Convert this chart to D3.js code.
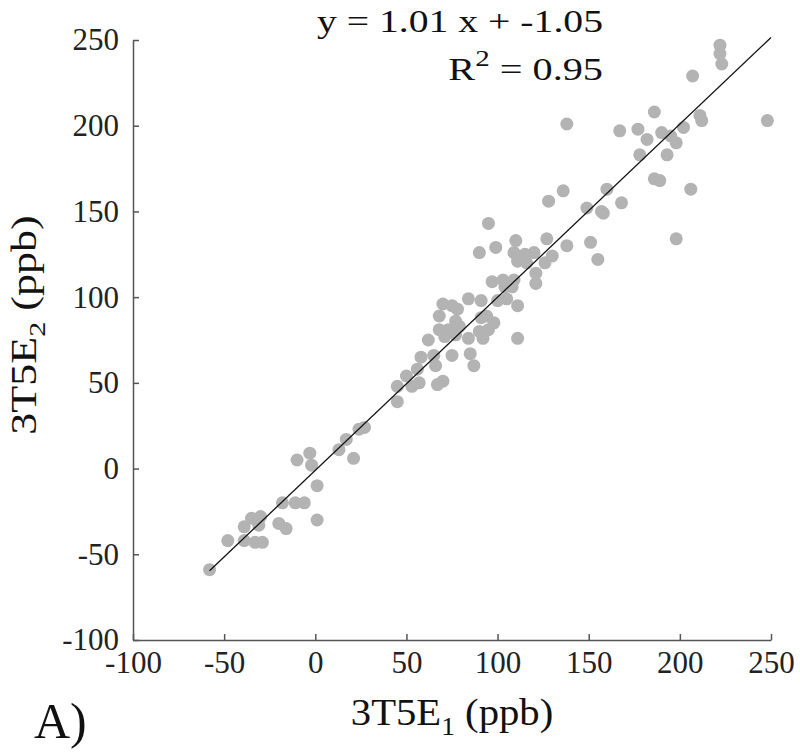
<!DOCTYPE html>
<html>
<head>
<meta charset="utf-8">
<script src="https://cdn.jsdelivr.net/npm/d3@7"></script>
<style>
  body { margin: 0; background: #fff; }
  text { font-family: "Liberation Serif", "Times New Roman", serif; }
</style>
</head>
<body>
<div id="chart"></div>
<script>
const xValues = [
  -58, -48, -39, -39, -35, -30, -31, -33, -29, -20, -16, -18, -11, -6, 1, 1, -10, -3, -2, 13, 17, 21, 24, 27,
  45, 45, 50, 53, 56, 57, 58, 62, 65, 66, 67, 70, 68, 68, 70, 75, 78, 73, 71, 77, 77, 79, 75, 84, 84, 85, 87,
  90, 91, 91, 94, 92, 95, 98, 111, 97, 103, 104, 109, 108, 100, 105, 111, 111, 116, 121, 121, 126,
  95, 90, 99, 110, 109, 115, 120, 127, 130, 138, 151, 155, 198, 128, 136, 149, 157, 158, 168, 160,
  222, 222, 223, 207, 186, 138, 167, 177, 182, 190, 195, 198, 202, 211, 212, 248, 178, 193, 186, 189, 206
];
const yValues = [
  -59, -42, -34, -42, -29, -28, -33, -43, -43, -32, -35, -20, -20, -20, -30, -10, 5, 9, 2, 11, 17, 6, 23, 24,
  48, 39, 54, 48, 58, 50, 65, 75, 66, 60, 49, 51, 81, 89, 96, 95, 93, 81, 77, 86, 78, 83, 66, 76, 99, 67, 60,
  80, 98, 88, 89, 76, 81, 85, 76, 109, 110, 106, 110, 106, 98, 99, 95, 121, 120, 114, 108, 120,
  143, 126, 129, 133, 126, 125, 126, 134, 124, 130, 132, 122, 134, 156, 162, 152, 150, 149, 155, 163,
  247, 242, 236, 229, 208, 201, 197, 198, 192, 196, 194, 190, 199, 206, 203, 203, 183, 183, 169, 168, 163
];
const xTicks = [-100, -50, 0, 50, 100, 150, 200, 250];
const yTicks = [-100, -50, 0, 50, 100, 150, 200, 250];
const fitSlope = 1.01;
const fitIntercept = -1.05;

const data = xValues.map((x, i) => ({ x: x, y: yValues[i] }));

const W = 800, H = 753;
const margin = { top: 40, right: 29, bottom: 113, left: 133 };
const width = W - margin.left - margin.right;
const height = H - margin.top - margin.bottom;

const svgRoot = d3.select("#chart").append("svg")
  .attr("width", W)
  .attr("height", H);

const svg = svgRoot.append("g")
  .attr("transform", `translate(${margin.left}, ${margin.top})`);

const x = d3.scaleLinear().domain([-100, 250]).range([0, width]);
const y = d3.scaleLinear().domain([-100, 250]).range([height, 0]);

// points
svg.selectAll(".pt")
  .data(data)
  .enter()
  .append("circle")
  .attr("class", "pt")
  .attr("cx", d => x(d.x))
  .attr("cy", d => y(d.y))
  .attr("r", 6.5)
  .attr("fill", "#b3b3b3");

// regression line over the data's x range
const xExt = d3.extent(xValues);
svg.append("line")
  .attr("x1", x(xExt[0]))
  .attr("y1", y(fitSlope * xExt[0] + fitIntercept))
  .attr("x2", x(xExt[1] + 2))
  .attr("y2", y(fitSlope * (xExt[1] + 2) + fitIntercept))
  .attr("stroke", "#111")
  .attr("stroke-width", 1.3);

// axes, ticks pointing inward, plain hyphen for negatives
const fmt = d => String(d);
const xAxis = svg.append("g")
  .attr("transform", `translate(0, ${height})`)
  .call(d3.axisBottom(x).tickValues(xTicks).tickFormat(fmt)
    .tickSizeInner(-6).tickSizeOuter(0).tickPadding(11));
const yAxis = svg.append("g")
  .call(d3.axisLeft(y).tickValues(yTicks).tickFormat(fmt)
    .tickSizeInner(-6).tickSizeOuter(0).tickPadding(14));

[xAxis, yAxis].forEach(a => {
  a.select(".domain").attr("stroke", "#555").attr("stroke-width", 1.5);
  a.selectAll(".tick line").attr("stroke", "#555").attr("stroke-width", 1.5);
  a.selectAll("text")
    .attr("fill", "#222")
    .style("font-size", "31px")
    .style("font-family", "'Liberation Serif', 'Times New Roman', serif");
});

// equation text (right aligned, a bit wider than plain Times)
const eq = svgRoot.append("g").attr("transform", "translate(603, 32) scale(1.24, 1)");
eq.append("text")
  .attr("text-anchor", "end")
  .attr("fill", "#111")
  .style("font-size", "32px")
  .text(`y = ${fitSlope.toFixed(2)} x + ${fitIntercept.toFixed(2)}`);

const r2g = svgRoot.append("g").attr("transform", "translate(603, 80) scale(1.26, 1)");
const r2 = r2g.append("text")
  .attr("text-anchor", "end")
  .attr("fill", "#111")
  .style("font-size", "32px");
r2.append("tspan").text("R");
r2.append("tspan").attr("dy", -14).style("font-size", "23px").text("2");
r2.append("tspan").attr("dy", 14).text(" = 0.95");

// axis labels
const xlg = svgRoot.append("g").attr("transform", "translate(452, 725) scale(1.1, 1)");
const xl = xlg.append("text")
  .attr("text-anchor", "middle")
  .attr("fill", "#111")
  .style("font-size", "37px");
xl.append("tspan").text("3T5E");
xl.append("tspan").attr("dy", 10).style("font-size", "25px").text("1");
xl.append("tspan").attr("dy", -10).text(" (ppb)");

const ylg = svgRoot.append("g").attr("transform", "translate(36, 325) rotate(-90) scale(1.26, 1)");
const yl = ylg.append("text")
  .attr("text-anchor", "middle")
  .attr("fill", "#111")
  .style("font-size", "35px");
yl.append("tspan").text("3T5E");
yl.append("tspan").attr("dy", 9).style("font-size", "24px").text("2");
yl.append("tspan").attr("dy", -9).text(" (ppb)");

// panel letter
svgRoot.append("text")
  .attr("x", 34)
  .attr("y", 738)
  .attr("fill", "#111")
  .style("font-size", "50px")
  .text("A)");
</script>
</body>
</html>
